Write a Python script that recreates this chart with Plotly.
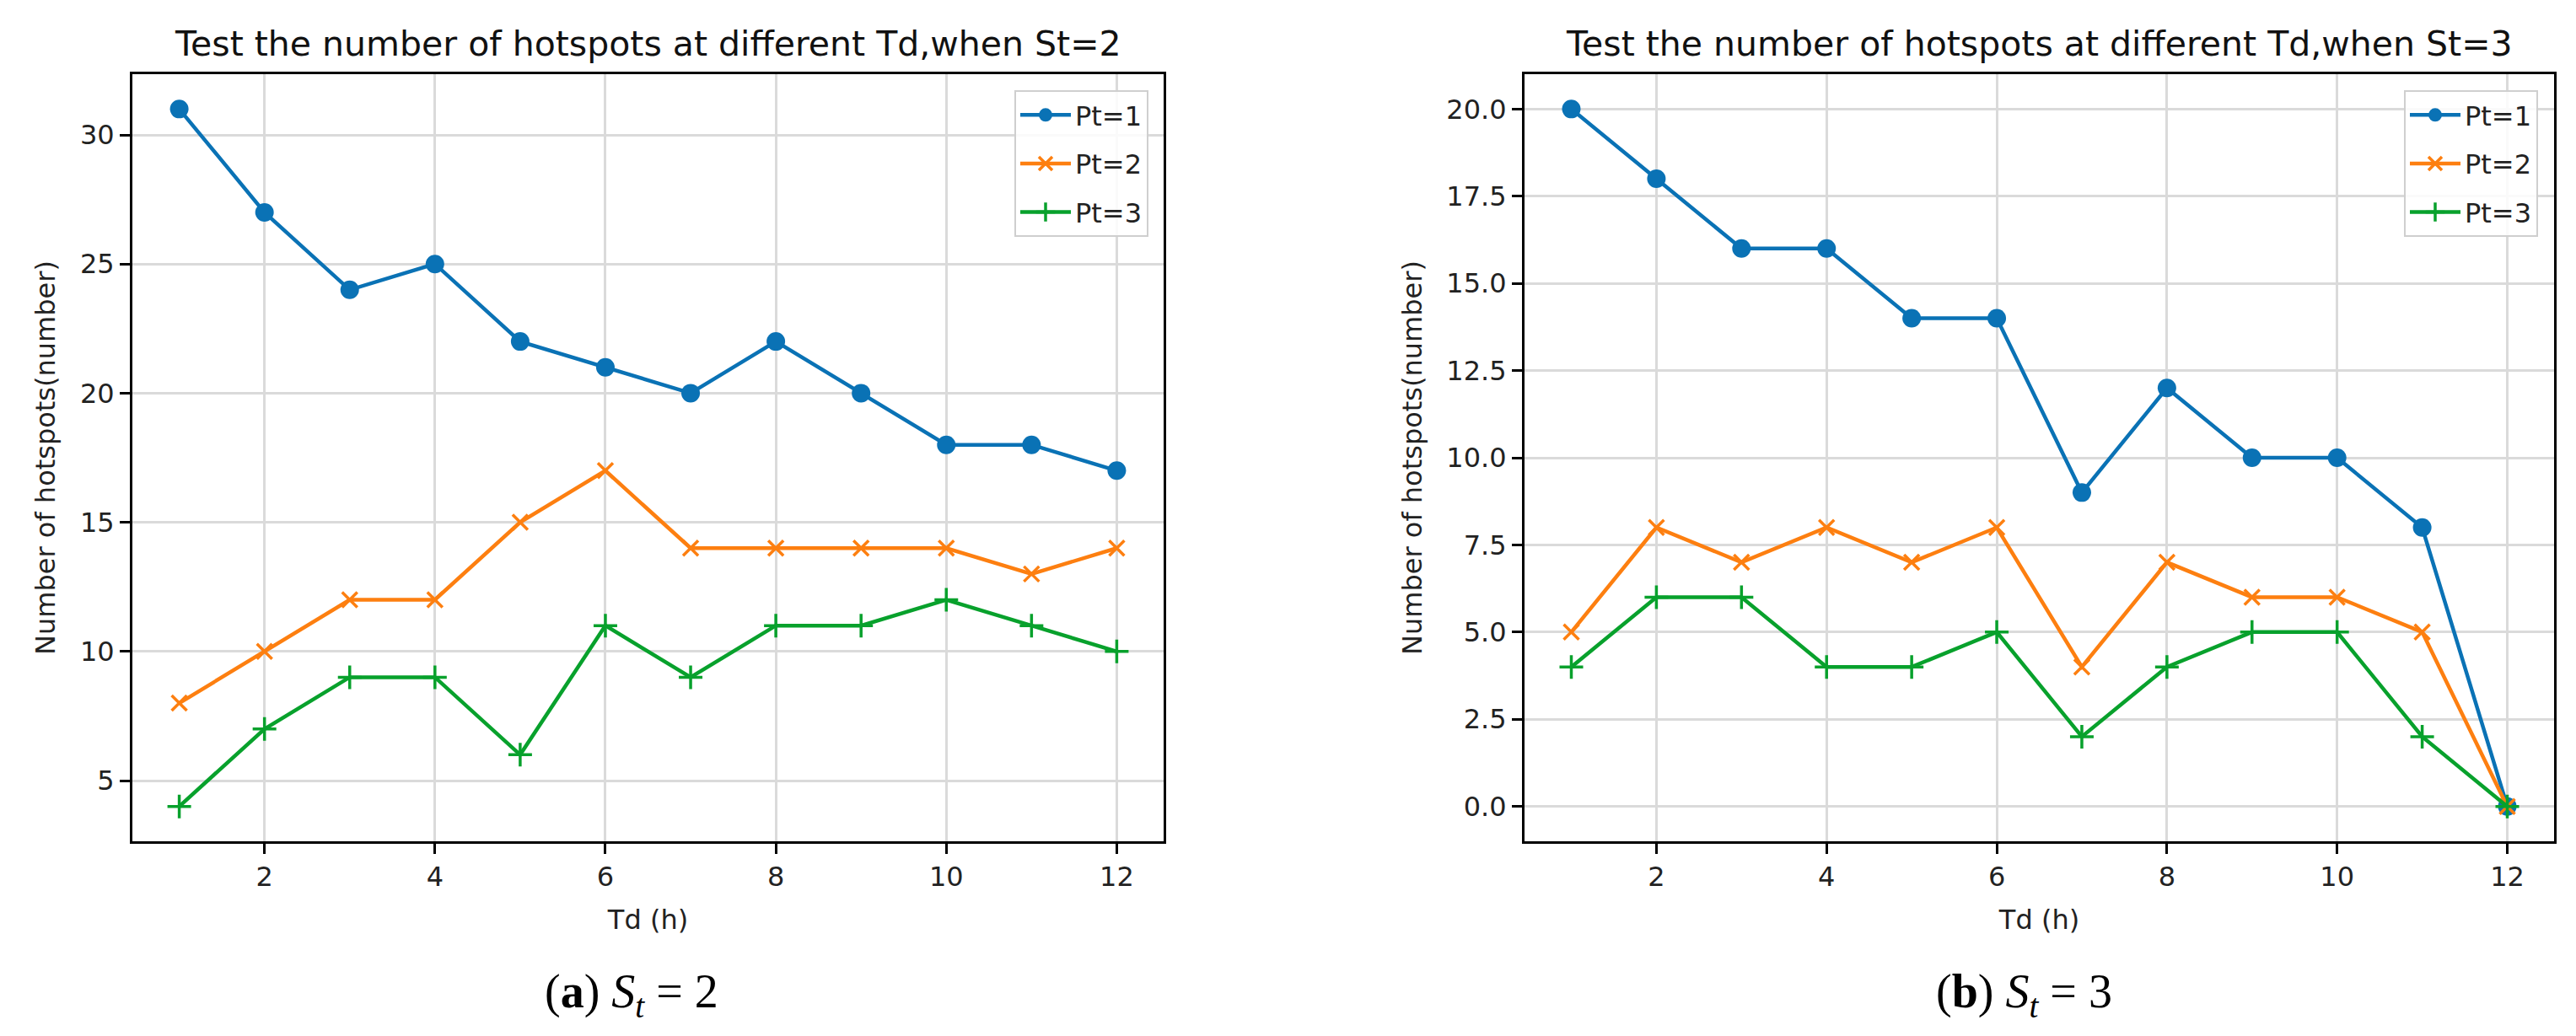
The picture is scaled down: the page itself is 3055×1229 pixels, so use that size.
import plotly.graph_objects as go

W, H = 3055, 1229

td = [1, 2, 3, 4, 5, 6, 7, 8, 9, 10, 11, 12]
series_names = ["Pt=1", "Pt=2", "Pt=3"]

st2_pt1 = [31, 27, 24, 25, 22, 21, 20, 22, 20, 18, 18, 17]
st2_pt2 = [8, 10, 12, 12, 15, 17, 14, 14, 14, 14, 13, 14]
st2_pt3 = [4, 7, 9, 9, 6, 11, 9, 11, 11, 12, 11, 10]

st3_pt1 = [20, 18, 16, 16, 14, 14, 9, 12, 10, 10, 8, 0]
st3_pt2 = [5, 8, 7, 8, 7, 8, 4, 7, 6, 6, 5, 0]
st3_pt3 = [4, 6, 6, 4, 4, 5, 2, 4, 5, 5, 2, 0]

xticks = [2, 4, 6, 8, 10, 12]
title_a = "Test the number of hotspots at different Td,when St=2"
title_b = "Test the number of hotspots at different Td,when St=3"
caption_a = "(<b>a</b>) <i>S<sub>t</sub></i> = 2"
caption_b = "(<b>b</b>) <i>S<sub>t</sub></i> = 3"
xlabel = "Td (h)"
ylabel = "Number of hotspots(number)"

colors = ["#0a72b5", "#fd7f10", "#08a12c"]
symbols = ["circle", "x-thin", "cross-thin"]
msizes = [22, 18, 20]

FONT = "DejaVu Sans"

fig = go.Figure()

panels = [
    ([st2_pt1, st2_pt2, st2_pt3], "x", "y", "legend"),
    ([st3_pt1, st3_pt2, st3_pt3], "x2", "y2", "legend2"),
]
for p, (vals, xa, ya, lg) in enumerate(panels):
    for i, v in enumerate(vals):
        fig.add_trace(go.Scatter(
            x=td, y=v, name=series_names[i], mode="lines+markers",
            xaxis=xa, yaxis=ya, legend=lg, legendgroup=f"{lg}_{i}",
            line=dict(color=colors[i], width=4.5),
            marker=dict(symbol=symbols[i], size=msizes[i], color=colors[i],
                        line=dict(color=colors[i], width=0 if i == 0 else 3.5)),
        ))

ydom = [1 - 998 / H, 1 - 88 / H]
x1dom = [157 / W, 1380 / W]
x2dom = [1808 / W, 3029 / W]

axis_common = dict(
    showline=True, mirror=True, linecolor="black", linewidth=3,
    ticks="outside", ticklen=12, tickwidth=3, tickcolor="black",
    showgrid=True, gridcolor="#dadada", gridwidth=2.5, zeroline=False,
    tickfont=dict(family=FONT, size=32, color="#222222"),
)

legend_common = dict(
    yanchor="top", xanchor="right", y=1 - 107 / H,
    bgcolor="rgba(255,255,255,0.85)", bordercolor="#cfcfcf", borderwidth=2,
    font=dict(family=FONT, size=32, color="#222222"), tracegroupgap=13,
    itemwidth=60,
)

fig.update_layout(
    width=W, height=H,
    margin=dict(l=0, r=0, t=0, b=0),
    paper_bgcolor="white", plot_bgcolor="white",
    font=dict(family=FONT, color="#222222"),
    xaxis=dict(domain=x1dom, anchor="y", range=[0.45, 12.55], tickvals=xticks,
               title=dict(text=xlabel, font=dict(size=32), standoff=22), **axis_common),
    yaxis=dict(domain=ydom, anchor="x", range=[2.65, 32.35], dtick=5, tick0=0,
               title=dict(text=ylabel, font=dict(size=32), standoff=20), **axis_common),
    xaxis2=dict(domain=x2dom, anchor="y2", range=[0.45, 12.55], tickvals=xticks,
                title=dict(text=xlabel, font=dict(size=32), standoff=22), **axis_common),
    yaxis2=dict(domain=ydom, anchor="x2", range=[-1, 21], dtick=2.5, tick0=0,
                tickformat=".1f",
                title=dict(text=ylabel, font=dict(size=32), standoff=20), **axis_common),
    legend=dict(x=1362 / W, **legend_common),
    legend2=dict(x=3010 / W, **legend_common),
    showlegend=True,
)

for txt, dom in [(title_a, x1dom), (title_b, x2dom)]:
    fig.add_annotation(text=txt, x=(dom[0] + dom[1]) / 2, y=1 - 52 / H,
                       xref="paper", yref="paper", xanchor="center", yanchor="middle",
                       showarrow=False, font=dict(family=FONT, size=41, color="#111111"))

for txt, cx in [(caption_a, 749 / W), (caption_b, 2400 / W)]:
    fig.add_annotation(text=txt, x=cx, y=1 - 1180 / H,
                       xref="paper", yref="paper", xanchor="center", yanchor="middle",
                       showarrow=False,
                       font=dict(family="Liberation Serif", size=56, color="black"))

fig.write_html("out.html", config={"displayModeBar": False},
               post_script="document.body.style.margin='0';document.body.style.overflow='hidden';")
